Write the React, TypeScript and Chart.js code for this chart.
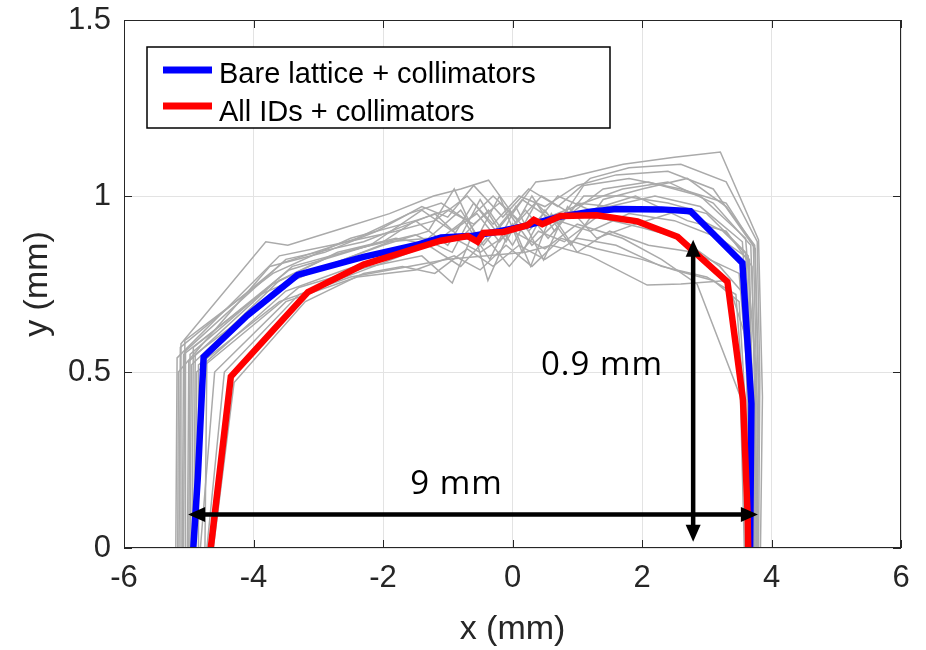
import React, { useEffect, useRef } from "react";
import { Chart, registerables } from "chart.js";

Chart.register(...registerables);

type P = [number, number];

const xTickLabels = ["-6", "-4", "-2", "0", "2", "4", "6"];
const yTickLabels = ["0", "0.5", "1", "1.5"];
const xTitle = "x (mm)";
const yTitle = "y (mm)";
const seriesNames = ["Bare lattice + collimators", "All IDs + collimators"];

const bareLattice: P[] = [
  [-4.93, 0], [-4.86, 0.2], [-4.77, 0.543], [-4.1, 0.66], [-3.32, 0.776], [-2.3, 0.827],
  [-1.5, 0.86], [-1.1, 0.882], [-0.6, 0.887], [-0.2, 0.9], [0.2, 0.915], [0.7, 0.94],
  [1.2, 0.955], [1.6, 0.963], [2.3, 0.962], [2.75, 0.957], [3.55, 0.81], [3.69, 0.41], [3.67, 0],
];

const allIDs: P[] = [
  [-4.66, 0], [-4.5, 0.25], [-4.35, 0.487], [-3.16, 0.727], [-2.3, 0.805], [-1.11, 0.873],
  [-0.69, 0.886], [-0.54, 0.87], [-0.45, 0.895], [-0.14, 0.898], [0.23, 0.917], [0.33, 0.932],
  [0.46, 0.92], [0.74, 0.943], [1.3, 0.945], [1.93, 0.928], [2.55, 0.884], [3.32, 0.756],
  [3.56, 0.42], [3.63, 0.1], [3.64, 0],
];

const seeds01: P[] = [[-5.12, 0], [-5.12, 0.58], [-3.81, 0.87], [-3.47, 0.86], [-2.6, 0.91], [-1.9, 0.95], [-1.22, 1.0], [-0.8, 1.02], [-0.37, 1.045], [0, 0.95], [0.36, 1.04], [0.8, 1.05], [1.71, 1.09], [2.5, 1.11], [3.21, 1.125], [3.8, 0.875], [3.86, 0.43], [3.83, 0]];
const seeds02: P[] = [[-5.05, 0], [-5.05, 0.56], [-3.5, 0.82], [-2.3, 0.87], [-1.6, 0.92], [-1.2, 0.95], [-0.8, 0.88], [-0.37, 0.96], [0, 0.86], [0.36, 0.98], [0.7, 0.92], [1.1, 1.03], [1.8, 1.05], [2.6, 1.02], [3.3, 0.98], [3.72, 0.86], [3.78, 0.4], [3.76, 0]];
const seeds03: P[] = [[-5.0, 0], [-4.98, 0.55], [-3.4, 0.8], [-2.4, 0.85], [-1.5, 0.89], [-0.93, 0.84], [-0.5, 0.99], [-0.1, 0.87], [0.3, 1.0], [0.65, 0.9], [1.1, 1.0], [1.7, 1.0], [2.4, 0.98], [3.0, 0.95], [3.6, 0.84], [3.72, 0.42], [3.7, 0]];
const seeds04: P[] = [[-4.9, 0], [-4.88, 0.5], [-3.3, 0.74], [-2.2, 0.8], [-1.4, 0.83], [-0.93, 0.753], [-0.6, 0.9], [-0.38, 0.76], [0, 0.92], [0.28, 0.8], [0.6, 0.95], [1.0, 0.84], [1.5, 0.9], [2.1, 0.86], [2.8, 0.84], [3.5, 0.78], [3.68, 0.38], [3.66, 0]];
const seeds05: P[] = [[-4.85, 0], [-4.85, 0.52], [-3.6, 0.7], [-2.5, 0.77], [-1.6, 0.8], [-1.0, 0.82], [-0.4, 0.83], [0.2, 0.84], [0.6, 0.86], [1.2, 0.83], [2.08, 0.747], [2.6, 0.75], [3.32, 0.76], [3.6, 0.6], [3.64, 0.3], [3.62, 0]];
const seeds06: P[] = [[-4.75, 0], [-4.72, 0.53], [-3.5, 0.73], [-2.6, 0.79], [-1.7, 0.84], [-1.0, 0.89], [-0.5, 0.84], [0, 0.9], [0.5, 0.85], [1.0, 0.92], [1.7, 0.88], [2.3, 0.82], [2.85, 0.75], [3.52, 0.43], [3.58, 0]];
const seeds07: P[] = [[-5.2, 0], [-5.18, 0.54], [-3.6, 0.83], [-2.8, 0.86], [-1.8, 0.9], [-1.2, 0.93], [-0.7, 1.0], [-0.3, 0.92], [0.1, 1.0], [0.5, 0.97], [1.0, 1.03], [1.6, 1.06], [2.4, 1.07], [3.1, 1.02], [3.75, 0.85], [3.8, 0.45], [3.78, 0]];
const seeds08: P[] = [[-4.95, 0], [-4.93, 0.57], [-3.45, 0.79], [-2.2, 0.86], [-1.4, 0.96], [-0.93, 0.9], [-0.55, 0.95], [-0.2, 0.87], [0.2, 0.96], [0.55, 0.88], [1.0, 0.98], [1.5, 0.97], [2.2, 1.0], [2.9, 0.97], [3.55, 0.87], [3.7, 0.45], [3.72, 0]];
const seeds09: P[] = [[-5.08, 0], [-5.06, 0.59], [-3.7, 0.78], [-2.5, 0.88], [-1.5, 0.93], [-1.0, 0.96], [-0.6, 0.92], [-0.2, 0.98], [0.25, 0.9], [0.7, 1.0], [1.2, 0.96], [1.9, 1.0], [2.7, 0.93], [3.3, 0.9], [3.7, 0.8], [3.74, 0.42], [3.74, 0]];
const seeds10: P[] = [[-4.72, 0], [-4.45, 0.5], [-3.3, 0.72], [-2.0, 0.81], [-1.3, 0.86], [-0.8, 0.8], [-0.4, 0.88], [-0.05, 0.8], [0.4, 0.9], [0.8, 0.87], [1.3, 0.94], [2.0, 0.91], [2.6, 0.88], [3.2, 0.8], [3.58, 0.72], [3.66, 0.35], [3.64, 0]];
const seeds11: P[] = [[-5.15, 0], [-5.13, 0.57], [-3.55, 0.81], [-2.4, 0.88], [-1.6, 0.95], [-1.1, 0.98], [-0.7, 0.93], [-0.3, 1.0], [0.1, 0.93], [0.45, 1.0], [0.9, 0.95], [1.4, 1.02], [2.1, 1.04], [2.9, 1.0], [3.6, 0.88], [3.76, 0.5], [3.74, 0]];
const seeds12: P[] = [[-4.92, 0], [-4.9, 0.55], [-3.4, 0.76], [-2.6, 0.82], [-1.9, 0.87], [-1.3, 0.88], [-0.8, 0.96], [-0.45, 0.86], [-0.05, 0.95], [0.3, 0.86], [0.7, 0.93], [1.2, 0.9], [1.8, 0.95], [2.5, 0.93], [3.2, 0.88], [3.66, 0.82], [3.7, 0.4], [3.68, 0]];
const seeds13: P[] = [[-5.02, 0], [-5.0, 0.53], [-3.7, 0.75], [-2.8, 0.83], [-2.0, 0.87], [-1.5, 0.93], [-1.0, 0.86], [-0.6, 0.98], [-0.25, 0.9], [0.15, 0.99], [0.55, 0.94], [1.1, 0.98], [1.7, 1.02], [2.4, 1.04], [3.1, 0.98], [3.68, 0.86], [3.76, 0.43], [3.74, 0]];
const seeds14: P[] = [[-4.62, 0], [-4.3, 0.47], [-3.2, 0.7], [-2.3, 0.78], [-1.7, 0.8], [-1.2, 0.78], [-0.7, 0.85], [-0.3, 0.8], [0.1, 0.86], [0.5, 0.82], [1.0, 0.88], [1.6, 0.86], [2.3, 0.8], [3.0, 0.77], [3.45, 0.72], [3.6, 0.35], [3.6, 0]];
const seeds15: P[] = [[-5.1, 0], [-5.08, 0.55], [-3.9, 0.72], [-2.9, 0.8], [-2.0, 0.86], [-1.3, 0.9], [-0.9, 1.02], [-0.55, 0.88], [-0.2, 1.0], [0.15, 0.84], [0.5, 0.96], [0.9, 0.86], [1.4, 0.99], [2.0, 1.02], [2.7, 1.05], [3.3, 0.97], [3.74, 0.86], [3.8, 0.46], [3.77, 0]];
const seeds16: P[] = [[-4.98, 0], [-4.96, 0.52], [-3.6, 0.76], [-2.7, 0.84], [-1.8, 0.88], [-1.25, 0.86], [-0.75, 0.93], [-0.35, 0.82], [0.05, 0.97], [0.48, 0.818], [0.85, 0.97], [1.3, 0.88], [1.9, 0.92], [2.6, 0.96], [3.25, 0.9], [3.64, 0.83], [3.72, 0.38], [3.7, 0]];
const seeds17: P[] = [[-5.17, 0], [-5.16, 0.5], [-3.75, 0.8], [-2.9, 0.84], [-2.1, 0.9], [-1.4, 0.97], [-1.0, 0.94], [-0.6, 1.03], [-0.15, 0.94], [0.25, 1.02], [0.7, 0.97], [1.2, 1.05], [1.8, 1.08], [2.6, 1.09], [3.3, 1.04], [3.78, 0.87], [3.82, 0.48], [3.8, 0]];
const seeds18: P[] = [[-4.82, 0], [-4.6, 0.5], [-3.5, 0.7], [-2.4, 0.77], [-1.5, 0.79], [-0.9, 0.83], [-0.5, 0.79], [-0.1, 0.86], [0.3, 0.8], [0.75, 0.88], [1.3, 0.85], [2.0, 0.82], [2.5, 0.79], [3.1, 0.76], [3.5, 0.7], [3.62, 0.33], [3.6, 0]];

const seedRuns: P[][] = [
  seeds01, seeds02, seeds03, seeds04, seeds05, seeds06, seeds07, seeds08, seeds09,
  seeds10, seeds11, seeds12, seeds13, seeds14, seeds15, seeds16, seeds17, seeds18,
];

// annotation content (data units)
const arrowSpans: [P, P][] = [
  [[-5.01, 0.095], [3.79, 0.095]],
  [[2.79, 0.018], [2.79, 0.876]],
];
const annotationTexts = ["9 mm", "0.9 mm"];
const annotationAnchors: P[] = [[-1.58, 0.179], [0.44, 0.518]];

const AX = "#262626";
const FONT = "'Liberation Sans', Arial, sans-serif";

const toXY = (pts: P[]) => pts.map(([x, y]) => ({ x, y }));

const overlayPlugin = {
  id: "overlay",
  afterDatasetsDraw(chart: any) {
    const { ctx, chartArea: a, scales } = chart;
    const xs = scales.x;
    const ys = scales.y;
    ctx.save();

    // axes box + inward ticks
    ctx.strokeStyle = AX;
    ctx.lineWidth = 1;
    ctx.strokeRect(a.left + 0.5, a.top + 0.5, a.right - a.left - 1, a.bottom - a.top - 1);
    ctx.beginPath();
    xs.ticks.forEach((t: any) => {
      const px = Math.round(xs.getPixelForValue(t.value)) + 0.5;
      ctx.moveTo(px, a.bottom);
      ctx.lineTo(px, a.bottom - 8);
      ctx.moveTo(px, a.top);
      ctx.lineTo(px, a.top + 8);
    });
    ys.ticks.forEach((t: any) => {
      const py = Math.round(ys.getPixelForValue(t.value)) + 0.5;
      ctx.moveTo(a.left, py);
      ctx.lineTo(a.left + 8, py);
      ctx.moveTo(a.right, py);
      ctx.lineTo(a.right - 8, py);
    });
    ctx.stroke();

    // arrows
    const head = (tx: number, ty: number, dx: number, dy: number) => {
      const len = 17, hw = 7.5;
      const bx = tx - dx * len, by = ty - dy * len;
      ctx.beginPath();
      ctx.moveTo(tx, ty);
      ctx.lineTo(bx - dy * hw, by + dx * hw);
      ctx.lineTo(bx + dy * hw, by - dx * hw);
      ctx.closePath();
      ctx.fill();
    };
    ctx.fillStyle = "#000";
    ctx.strokeStyle = "#000";
    ctx.lineWidth = 4.5;
    arrowSpans.forEach(([p0, p1]) => {
      const x0 = xs.getPixelForValue(p0[0]), y0 = ys.getPixelForValue(p0[1]);
      const x1 = xs.getPixelForValue(p1[0]), y1 = ys.getPixelForValue(p1[1]);
      const L = Math.hypot(x1 - x0, y1 - y0);
      const dx = (x1 - x0) / L, dy = (y1 - y0) / L;
      ctx.beginPath();
      ctx.moveTo(x0 + dx * 14, y0 + dy * 14);
      ctx.lineTo(x1 - dx * 14, y1 - dy * 14);
      ctx.stroke();
      head(x1, y1, dx, dy);
      head(x0, y0, -dx, -dy);
    });

    // annotation texts
    ctx.font = "33px 'Open Sans', 'Noto Sans', sans-serif";
    (ctx as any).letterSpacing = "1px";
    ctx.textAlign = "left";
    ctx.textBaseline = "middle";
    ctx.fillStyle = "#000";
    annotationTexts.forEach((txt, i) => {
      const [ax, ay] = annotationAnchors[i];
      ctx.fillText(txt, xs.getPixelForValue(ax), ys.getPixelForValue(ay));
    });
    (ctx as any).letterSpacing = "0px";

    // legend
    const lx = a.left + 23, ly = a.top + 27, lw = 463, lh = 81;
    ctx.fillStyle = "#fff";
    ctx.fillRect(lx, ly, lw, lh);
    ctx.strokeStyle = "#000";
    ctx.lineWidth = 1.5;
    ctx.strokeRect(lx, ly, lw, lh);
    ctx.font = `29px ${FONT}`;
    ctx.textBaseline = "alphabetic";
    let row = 0;
    chart.data.datasets.forEach((ds: any) => {
      if (!seriesNames.includes(ds.label)) return;
      const lyLine = ly + 23 + row * 36;
      ctx.strokeStyle = ds.borderColor;
      ctx.lineWidth = 7;
      ctx.beginPath();
      ctx.moveTo(lx + 16, lyLine);
      ctx.lineTo(lx + 65, lyLine);
      ctx.stroke();
      ctx.fillStyle = "#000";
      ctx.fillText(ds.label, lx + 72, ly + 36 + row * 38);
      row++;
    });
    ctx.restore();
  },
};

export default function App() {
  const ref = useRef<HTMLCanvasElement | null>(null);
  useEffect(() => {
    if (!ref.current) return;
    Chart.defaults.font.family = FONT;
    const grayDatasets = seedRuns.map((run, i) => ({
      label: `seed ${i + 1}`,
      data: toXY(run),
      showLine: true,
      borderColor: "#aaaaaa",
      borderWidth: 1.5,
      pointRadius: 0,
      order: 2,
    }));
    const chart = new Chart(ref.current, {
      type: "scatter",
      data: {
        datasets: [
          { label: seriesNames[0], data: toXY(bareLattice), showLine: true, borderColor: "#0000ff", borderWidth: 6.5, pointRadius: 0, order: 1 },
          { label: seriesNames[1], data: toXY(allIDs), showLine: true, borderColor: "#ff0000", borderWidth: 6.5, pointRadius: 0, order: 0 },
          ...grayDatasets,
        ] as any,
      },
      options: {
        animation: false,
        responsive: false,
        devicePixelRatio: 1,
        layout: { padding: { top: 20, right: 25, left: 0, bottom: 0 } },
        plugins: { legend: { display: false }, tooltip: { enabled: false } },
        elements: { line: { tension: 0, borderJoinStyle: "miter" } },
        scales: {
          x: {
            type: "linear",
            min: -6,
            max: 6,
            afterFit: (s: any) => { s.height = 102; s.paddingLeft = 0; s.paddingRight = 0; },
            ticks: {
              stepSize: 2,
              color: AX,
              font: { size: 31 },
              padding: 12,
              maxRotation: 0,
              callback: (_v: any, i: number) => xTickLabels[i],
            },
            grid: { color: "#e3e3e3", drawTicks: false },
            border: { display: false },
            title: { display: true, text: xTitle, color: AX, font: { size: 34 }, padding: { top: 0, bottom: 0 } },
          },
          y: {
            type: "linear",
            min: 0,
            max: 1.5,
            afterFit: (s: any) => { s.width = 124; s.paddingTop = 0; s.paddingBottom = 0; },
            ticks: {
              stepSize: 0.5,
              color: AX,
              font: { size: 31 },
              padding: 13,
              callback: (_v: any, i: number) => yTickLabels[i],
            },
            grid: { color: "#e3e3e3", drawTicks: false },
            border: { display: false },
            title: { display: true, text: yTitle, color: AX, font: { size: 34 }, padding: { top: 17, bottom: 0 } },
          },
        },
      } as any,
      plugins: [overlayPlugin],
    });
    return () => chart.destroy();
  }, []);
  return (
    <div style={{ position: "absolute", left: 0, top: 0, width: 926, height: 650, background: "#fff" }}>
      <canvas ref={ref} width={926} height={650} style={{ display: "block" }} />
    </div>
  );
}
